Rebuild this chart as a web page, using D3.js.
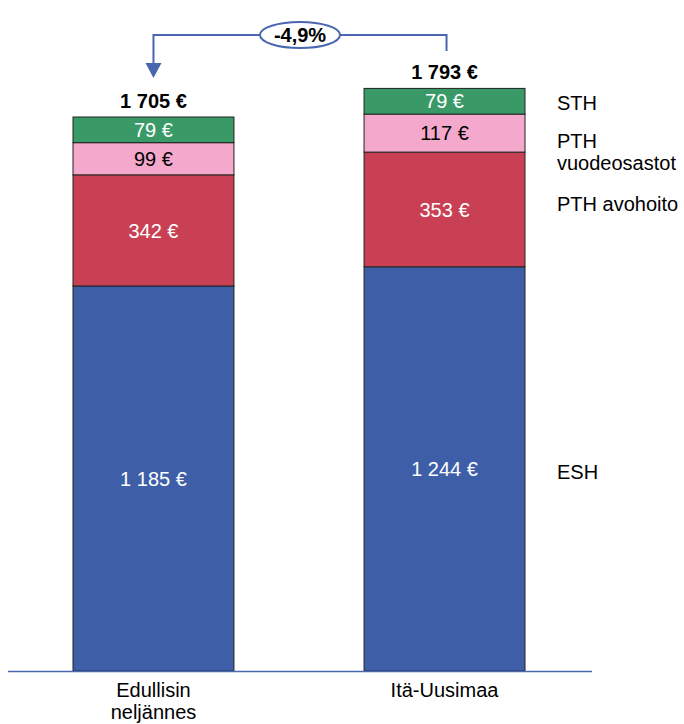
<!DOCTYPE html>
<html>
<head>
<meta charset="utf-8">
<script src="https://cdn.jsdelivr.net/npm/d3@7"></script>
<style>
  body { margin: 0; background: #fff; }
  svg { font-family: "Liberation Sans", Arial, sans-serif; }
</style>
</head>
<body>
<div id="chart"></div>
<script>
// data
var categories = [["Edullisin", "neljännes"], ["Itä-Uusimaa"]];
var seriesNames = ["ESH", "PTH avohoito", "PTH vuodeosastot", "STH"];
var esh = [1185, 1244];
var pthAvo = [342, 353];
var pthVuode = [99, 117];
var sth = [79, 79];
var totals = [1705, 1793];
var changeLabel = "-4,9%";

var colors = ["#3e5fa7", "#c94054", "#f4a9cc", "#3a9a67"];
var labelColors = ["#fff", "#fff", "#000", "#fff"];

const w = 684, h = 724;
const base = 671;
const fs = "20px";

var svg = d3.select("#chart").append("svg")
  .attr("width", w).attr("height", h);

var keys = categories.map(function(c) { return c.join(" "); });

var xScale = d3.scaleBand()
  .domain(keys)
  .range([73, 525])
  .paddingInner(0.447)
  .paddingOuter(0);

var yScale = d3.scaleLinear()
  .domain([0, 1705])
  .range([base, 117]);

var series = [esh, pthAvo, pthVuode, sth];
var rows = keys.map(function(k, i) {
  var r = { key: k };
  seriesNames.forEach(function(s, j) { r[s] = series[j][i]; });
  return r;
});
var stacked = d3.stack().keys(seriesNames)(rows);

var groups = svg.selectAll("g.layer")
  .data(stacked)
  .enter().append("g")
  .attr("class", "layer")
  .attr("fill", function(d, i) { return colors[i]; });

groups.selectAll("rect")
  .data(function(d) { return d; })
  .enter().append("rect")
  .attr("x", function(d) { return xScale(d.data.key); })
  .attr("y", function(d) { return yScale(d[1]); })
  .attr("width", xScale.bandwidth())
  .attr("height", function(d) { return yScale(d[0]) - yScale(d[1]); })
  .attr("stroke", "#222")
  .attr("stroke-width", 1);

function fmt(v) {
  var s = String(v);
  if (s.length > 3) s = s.slice(0, s.length - 3) + " " + s.slice(-3);
  return s + " €";
}

// segment labels
stacked.forEach(function(layer, li) {
  svg.selectAll(null)
    .data(layer)
    .enter().append("text")
    .attr("x", function(d) { return xScale(d.data.key) + xScale.bandwidth() / 2; })
    .attr("y", function(d) { return (yScale(d[0]) + yScale(d[1])) / 2; })
    .attr("dy", "0.36em")
    .attr("text-anchor", "middle")
    .style("font-size", fs)
    .attr("fill", labelColors[li])
    .text(function(d) { return fmt(d[1] - d[0]); });
});

// totals
svg.selectAll("text.total")
  .data(totals)
  .enter().append("text")
  .attr("class", "total")
  .attr("x", function(d, i) { return xScale(keys[i]) + xScale.bandwidth() / 2; })
  .attr("y", function(d) { return yScale(d) - 9; })
  .attr("text-anchor", "middle")
  .style("font-size", fs)
  .style("font-weight", "bold")
  .text(function(d) { return fmt(d); });

// baseline
svg.append("line")
  .attr("x1", 8).attr("x2", 592)
  .attr("y1", base + 0.5).attr("y2", base + 0.5)
  .attr("stroke", "#4a6ab4")
  .attr("stroke-width", 1.5);

// category labels
categories.forEach(function(c, i) {
  var cx = xScale(keys[i]) + xScale.bandwidth() / 2;
  var t = svg.append("text")
    .attr("x", cx)
    .attr("y", 697)
    .attr("text-anchor", "middle")
    .style("font-size", fs);
  c.forEach(function(line, j) {
    t.append("tspan")
      .attr("x", cx)
      .attr("dy", j === 0 ? 0 : 22)
      .text(line);
  });
});

// legend on the right, next to bar 2 segments
var last = stacked.map(function(l) { return l[1]; });
var legendX = 557;
var legendLines = [["ESH"], ["PTH avohoito"], ["PTH", "vuodeosastot"], ["STH"]];
var legendOffset = [3, -5, 8, 2];
legendLines.forEach(function(lines, i) {
  var d = last[i];
  var cy = (yScale(d[0]) + yScale(d[1])) / 2 + legendOffset[i];
  var t = svg.append("text")
    .attr("x", legendX)
    .attr("y", cy + 7)
    .style("font-size", fs);
  lines.forEach(function(line, j) {
    t.append("tspan").attr("x", legendX).attr("dy", j === 0 ? 0 : 22).text(line);
  });
});

// change arrow
var x1 = xScale(keys[0]) + xScale.bandwidth() / 2;
var x2 = xScale(keys[1]) + xScale.bandwidth() / 2 + 2;
var arrowY = 35;
var blue = "#4a66b0";
svg.append("path")
  .attr("d", "M" + x2 + "," + 51 + "V" + arrowY + "H" + x1 + "V" + 64)
  .attr("fill", "none")
  .attr("stroke", blue)
  .attr("stroke-width", 2);
svg.append("path")
  .attr("d", "M" + (x1 - 8) + ",63L" + (x1 + 8) + ",63L" + x1 + ",78Z")
  .attr("fill", blue);
var mid = (x1 + x2) / 2;
svg.append("ellipse")
  .attr("cx", mid).attr("cy", arrowY)
  .attr("rx", 40).attr("ry", 13)
  .attr("fill", "#fff")
  .attr("stroke", blue)
  .attr("stroke-width", 2);
svg.append("text")
  .attr("x", mid).attr("y", arrowY)
  .attr("dy", "0.36em")
  .attr("text-anchor", "middle")
  .style("font-size", fs)
  .style("font-weight", "bold")
  .text(changeLabel);
</script>
</body>
</html>
